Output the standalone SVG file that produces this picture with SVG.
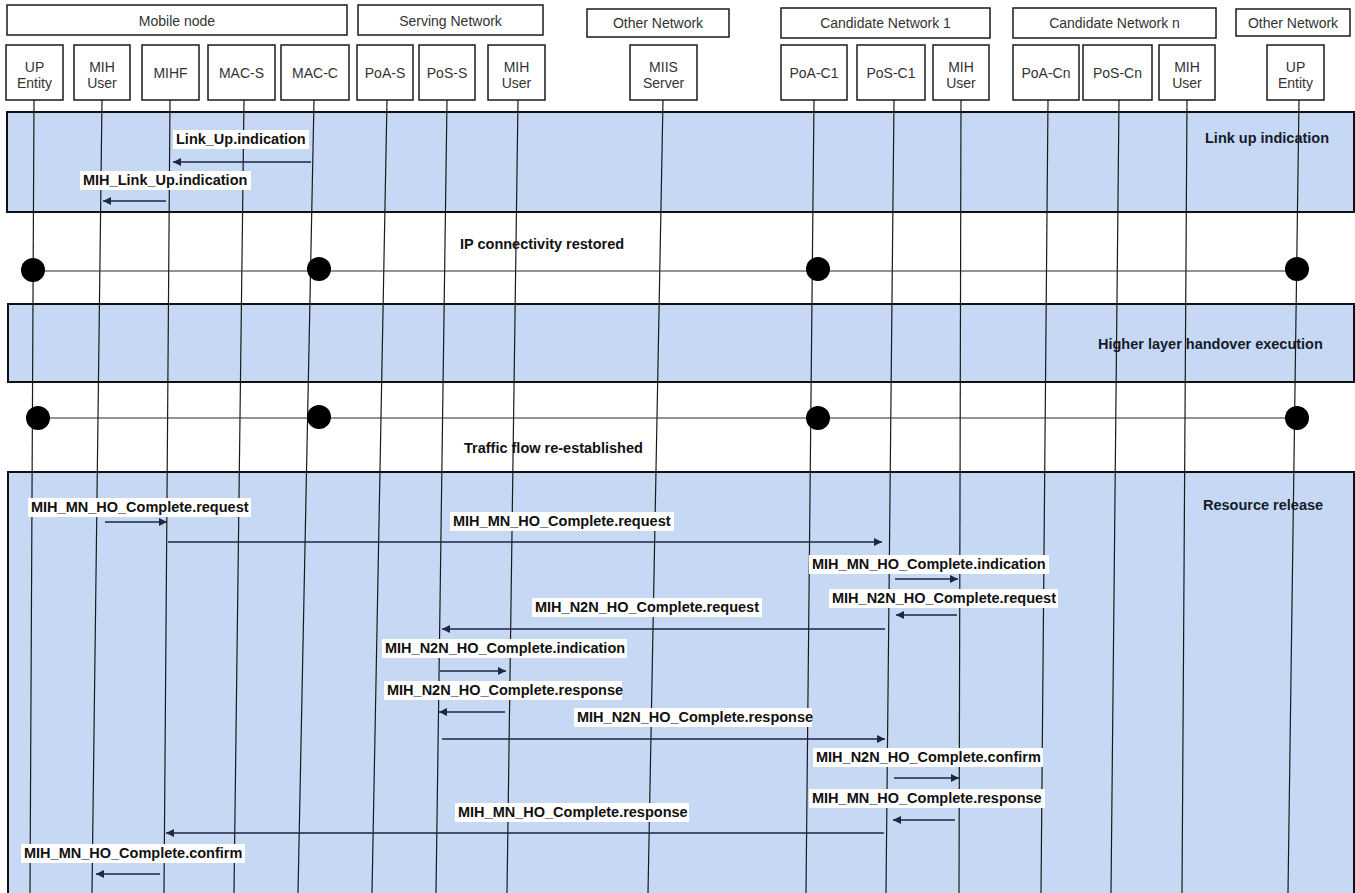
<svg xmlns="http://www.w3.org/2000/svg" width="1355" height="893" viewBox="0 0 1355 893">
  <defs>
    <marker id="ah" viewBox="0 0 10 10" refX="10" refY="5" markerWidth="10" markerHeight="8" markerUnits="userSpaceOnUse" orient="auto">
      <path d="M0,0 L10,5 L0,10 z" fill="#1c2742"/>
    </marker>
    <style>
      .grp { fill: #ffffff; stroke: #1a1a1a; stroke-width: 1.5; }
      .ent { fill: #ffffff; stroke: #1a1a1a; stroke-width: 1.5; }
      .hdr { font-family: "Liberation Sans", Arial, sans-serif; font-size: 14px; fill: #333333; text-anchor: middle; }
      .band { fill: #c6d8f4; stroke: #111111; stroke-width: 2; }
      .life { stroke: #1a1a1a; stroke-width: 1.2; fill: none; }
      .msg { stroke: #1c2742; stroke-width: 1.5; fill: none; marker-end: url(#ah); }
      .sync { stroke: #2a2a2a; stroke-width: 1.2; fill: none; }
      .dot { fill: #000000; }
      .lbl { font-family: "Liberation Sans", Arial, sans-serif; font-size: 14.5px; font-weight: bold; fill: #111111; }
      .lblbg { fill: #ffffff; }
      .bandlbl { font-family: "Liberation Sans", Arial, sans-serif; font-size: 14.5px; font-weight: bold; fill: #141b2b; }
    </style>
  </defs>

  <rect width="1355" height="893" fill="#ffffff"/>

  <!-- phase bands -->
  <g id="bands">
    <rect class="band" x="7" y="112" width="1347" height="100"/>
    <rect class="band" x="8" y="304" width="1346" height="78"/>
    <rect class="band" x="8" y="472" width="1346" height="430"/>
    <text class="bandlbl" x="1205" y="143">Link up indication</text>
    <text class="bandlbl" x="1098" y="349">Higher layer handover execution</text>
    <text class="bandlbl" x="1203" y="510">Resource release</text>
  </g>

  <!-- network groupings -->
  <g id="group-mobile-node">
    <rect class="grp" x="7" y="5" width="340" height="30"/>
    <text class="hdr" x="177" y="26">Mobile node</text>
  </g>
  <g id="group-serving-network">
    <rect class="grp" x="358" y="5" width="185" height="30"/>
    <text class="hdr" x="450.5" y="26">Serving Network</text>
  </g>
  <g id="group-other-network-1">
    <rect class="grp" x="587" y="9" width="142" height="28"/>
    <text class="hdr" x="658" y="28">Other Network</text>
  </g>
  <g id="group-candidate-network-1">
    <rect class="grp" x="781" y="8" width="209" height="30"/>
    <text class="hdr" x="885.5" y="28">Candidate Network 1</text>
  </g>
  <g id="group-candidate-network-n">
    <rect class="grp" x="1013" y="8" width="203" height="30"/>
    <text class="hdr" x="1114.5" y="28">Candidate Network n</text>
  </g>
  <g id="group-other-network-2">
    <rect class="grp" x="1236" y="9" width="114" height="27"/>
    <text class="hdr" x="1293" y="28">Other Network</text>
  </g>

  <!-- entities -->
  <g id="mn-up-entity">
    <rect class="ent" x="6" y="45" width="57" height="55"/>
    <text class="hdr" x="34.5" y="72">UP</text>
    <text class="hdr" x="34.5" y="88">Entity</text>
  </g>
  <g id="mn-mih-user">
    <rect class="ent" x="74" y="45" width="56" height="55"/>
    <text class="hdr" x="102" y="72">MIH</text>
    <text class="hdr" x="102" y="88">User</text>
  </g>
  <g id="mn-mihf">
    <rect class="ent" x="142" y="45" width="57" height="55"/>
    <text class="hdr" x="170.5" y="78">MIHF</text>
  </g>
  <g id="mn-mac-s">
    <rect class="ent" x="208" y="45" width="67" height="55"/>
    <text class="hdr" x="241.5" y="78">MAC-S</text>
  </g>
  <g id="mn-mac-c">
    <rect class="ent" x="281" y="45" width="68" height="55"/>
    <text class="hdr" x="315" y="78">MAC-C</text>
  </g>
  <g id="sn-poa-s">
    <rect class="ent" x="357" y="45" width="56" height="55"/>
    <text class="hdr" x="385" y="78">PoA-S</text>
  </g>
  <g id="sn-pos-s">
    <rect class="ent" x="419" y="45" width="56" height="55"/>
    <text class="hdr" x="447" y="78">PoS-S</text>
  </g>
  <g id="sn-mih-user">
    <rect class="ent" x="488" y="45" width="57" height="55"/>
    <text class="hdr" x="516.5" y="72">MIH</text>
    <text class="hdr" x="516.5" y="88">User</text>
  </g>
  <g id="on-miis-server">
    <rect class="ent" x="630" y="45" width="67" height="55"/>
    <text class="hdr" x="663.5" y="72">MIIS</text>
    <text class="hdr" x="663.5" y="88">Server</text>
  </g>
  <g id="c1-poa">
    <rect class="ent" x="781" y="45" width="66" height="55"/>
    <text class="hdr" x="814" y="78">PoA-C1</text>
  </g>
  <g id="c1-pos">
    <rect class="ent" x="857" y="45" width="68" height="55"/>
    <text class="hdr" x="891" y="78">PoS-C1</text>
  </g>
  <g id="c1-mih-user">
    <rect class="ent" x="933" y="45" width="56" height="55"/>
    <text class="hdr" x="961" y="72">MIH</text>
    <text class="hdr" x="961" y="88">User</text>
  </g>
  <g id="cn-poa">
    <rect class="ent" x="1013" y="45" width="66" height="55"/>
    <text class="hdr" x="1046" y="78">PoA-Cn</text>
  </g>
  <g id="cn-pos">
    <rect class="ent" x="1083" y="45" width="69" height="55"/>
    <text class="hdr" x="1117.5" y="78">PoS-Cn</text>
  </g>
  <g id="cn-mih-user">
    <rect class="ent" x="1159" y="45" width="56" height="55"/>
    <text class="hdr" x="1187" y="72">MIH</text>
    <text class="hdr" x="1187" y="88">User</text>
  </g>
  <g id="on-up-entity">
    <rect class="ent" x="1267" y="45" width="57" height="55"/>
    <text class="hdr" x="1295.5" y="72">UP</text>
    <text class="hdr" x="1295.5" y="88">Entity</text>
  </g>

  <!-- lifelines -->
  <g id="lifelines">
    <line class="life" x1="34" y1="100" x2="30" y2="893"/>
    <line class="life" x1="102" y1="100" x2="92" y2="893"/>
    <line class="life" x1="170" y1="100" x2="164" y2="893"/>
    <line class="life" x1="244" y1="100" x2="234" y2="893"/>
    <line class="life" x1="314" y1="100" x2="298" y2="893"/>
    <line class="life" x1="387" y1="100" x2="372" y2="893"/>
    <line class="life" x1="447" y1="100" x2="436" y2="893"/>
    <line class="life" x1="518" y1="100" x2="507" y2="893"/>
    <line class="life" x1="663" y1="100" x2="648" y2="893"/>
    <line class="life" x1="814" y1="100" x2="806" y2="893"/>
    <line class="life" x1="894" y1="100" x2="886" y2="893"/>
    <line class="life" x1="961" y1="100" x2="959" y2="893"/>
    <line class="life" x1="1048" y1="100" x2="1041" y2="893"/>
    <line class="life" x1="1119" y1="100" x2="1111" y2="893"/>
    <line class="life" x1="1187" y1="100" x2="1182" y2="893"/>
    <line class="life" x1="1299" y1="100" x2="1288" y2="893"/>
  </g>

  <!-- synchronisation points -->
  <g id="sync-ip-restored">
    <line class="sync" x1="33" y1="271" x2="1297" y2="271"/>
    <circle class="dot" cx="33" cy="270" r="12"/>
    <circle class="dot" cx="319" cy="269" r="12"/>
    <circle class="dot" cx="818" cy="269" r="12"/>
    <circle class="dot" cx="1297" cy="269" r="12"/>
    <text class="lbl" x="460" y="249">IP connectivity restored</text>
  </g>
  <g id="sync-traffic-flow">
    <line class="sync" x1="38" y1="418" x2="1297" y2="418"/>
    <circle class="dot" cx="38" cy="418" r="12"/>
    <circle class="dot" cx="319" cy="417" r="12"/>
    <circle class="dot" cx="818" cy="418" r="12"/>
    <circle class="dot" cx="1297" cy="418" r="12"/>
    <text class="lbl" x="464" y="453">Traffic flow re-established</text>
  </g>

  <!-- messages -->
  <g id="connectors">
    <line class="msg" x1="311" y1="162" x2="173" y2="162"/>
    <line class="msg" x1="166" y1="201" x2="103" y2="201"/>
    <line class="msg" x1="105" y1="522" x2="167" y2="522"/>
    <line class="msg" x1="168" y1="542" x2="882" y2="542"/>
    <line class="msg" x1="895" y1="579" x2="958" y2="579"/>
    <line class="msg" x1="957" y1="615" x2="896" y2="615"/>
    <line class="msg" x1="885" y1="629" x2="442" y2="629"/>
    <line class="msg" x1="440" y1="671" x2="506" y2="671"/>
    <line class="msg" x1="505" y1="712" x2="439" y2="712"/>
    <line class="msg" x1="442" y1="739" x2="885" y2="739"/>
    <line class="msg" x1="894" y1="778" x2="959" y2="778"/>
    <line class="msg" x1="955" y1="820" x2="893" y2="820"/>
    <line class="msg" x1="884" y1="833" x2="166" y2="833"/>
    <line class="msg" x1="160" y1="874" x2="96" y2="874"/>
  </g>

  <!-- message labels -->
  <g id="message-labels">
    <rect class="lblbg" x="173" y="130" width="136" height="19"/>
    <text class="lbl" x="176" y="144">Link_Up.indication</text>
    <rect class="lblbg" x="80" y="171" width="171" height="19"/>
    <text class="lbl" x="83" y="185">MIH_Link_Up.indication</text>
    <rect class="lblbg" x="28" y="498" width="223" height="19"/>
    <text class="lbl" x="31" y="512">MIH_MN_HO_Complete.request</text>
    <rect class="lblbg" x="450" y="512" width="224" height="19"/>
    <text class="lbl" x="453" y="526">MIH_MN_HO_Complete.request</text>
    <rect class="lblbg" x="809" y="555" width="240" height="19"/>
    <text class="lbl" x="812" y="569">MIH_MN_HO_Complete.indication</text>
    <rect class="lblbg" x="829" y="589" width="229" height="19"/>
    <text class="lbl" x="832" y="603">MIH_N2N_HO_Complete.request</text>
    <rect class="lblbg" x="532" y="598" width="230" height="19"/>
    <text class="lbl" x="535" y="612">MIH_N2N_HO_Complete.request</text>
    <rect class="lblbg" x="382" y="639" width="245" height="19"/>
    <text class="lbl" x="385" y="653">MIH_N2N_HO_Complete.indication</text>
    <rect class="lblbg" x="384" y="681" width="238" height="19"/>
    <text class="lbl" x="387" y="695">MIH_N2N_HO_Complete.response</text>
    <rect class="lblbg" x="574" y="708" width="238" height="19"/>
    <text class="lbl" x="577" y="722">MIH_N2N_HO_Complete.response</text>
    <rect class="lblbg" x="813" y="748" width="230" height="19"/>
    <text class="lbl" x="816" y="762">MIH_N2N_HO_Complete.confirm</text>
    <rect class="lblbg" x="809" y="789" width="236" height="19"/>
    <text class="lbl" x="812" y="803">MIH_MN_HO_Complete.response</text>
    <rect class="lblbg" x="455" y="803" width="234" height="19"/>
    <text class="lbl" x="458" y="817">MIH_MN_HO_Complete.response</text>
    <rect class="lblbg" x="21" y="844" width="224" height="19"/>
    <text class="lbl" x="24" y="858">MIH_MN_HO_Complete.confirm</text>
  </g>
</svg>
